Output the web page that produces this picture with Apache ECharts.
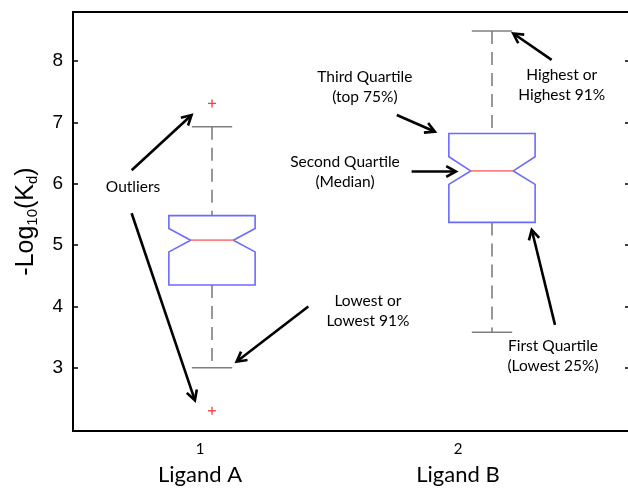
<!DOCTYPE html>
<html><head><meta charset="utf-8">
<script src="https://cdn.jsdelivr.net/npm/echarts@6/dist/echarts.min.js"></script>
<style>html,body{margin:0;padding:0;background:#fff}#c{width:628px;height:488px}</style>
</head><body><div id="c"></div>
<script>
// ---- data ----
const categories = [1, 2];
const categoryNames = ['Ligand A', 'Ligand B'];
const lowWhisker = [3.00, 3.58];
const q1 = [4.35, 5.37];
const notchLow = [4.89, 5.99];
const median = [5.08, 6.21];
const notchHigh = [5.27, 6.44];
const q3 = [5.48, 6.82];
const highWhisker = [6.93, 8.49];
const outlierX = [1, 1];
const outlierY = [7.31, 2.30];
const yTicks = [3, 4, 5, 6, 7, 8];

// annotations (data coordinates)
const annTexts = ['Outliers', 'Lowest or\nLowest 91%', 'Third Quartile\n(top 75%)', 'Second Quartile\n(Median)', 'Highest or\nHighest 91%', 'First Quartile\n(Lowest 25%)'];
const annTextX = [0.718, 1.557, 1.546, 1.475, 2.249, 2.218];
const annTextY = [5.95, 3.93, 7.58, 6.19, 7.61, 3.19];
const arrowFromX = [0.713, 0.713, 1.344, 1.660, 1.713, 2.213, 2.225];
const arrowFromY = [6.22, 5.52, 4.00, 7.12, 6.20, 8.02, 3.70];
const arrowToX = [0.927, 0.939, 1.088, 1.796, 1.871, 2.076, 2.142];
const arrowToY = [7.12, 2.47, 3.10, 6.85, 6.20, 8.45, 5.25];

const boxData = categories.map((c, i) => [c, lowWhisker[i], q1[i], notchLow[i], median[i], notchHigh[i], q3[i], highWhisker[i]]);
const outlierData = outlierX.map((x, i) => [x, outlierY[i]]);
const textData = annTexts.map((t, i) => [annTextX[i], annTextY[i], i]);
const arrowData = arrowFromX.map((x, i) => [x, arrowFromY[i], arrowToX[i], arrowToY[i]]);

const chart = echarts.init(document.getElementById('c'));

function renderBox(params, api) {
  const x = api.value(0);
  const p = k => api.coord([x, api.value(k)]);
  const unit = api.size([1, 0])[0];
  const hw = unit * 0.154, inset = unit * 0.078, cap = unit * 0.072;
  const cx = p(1)[0];
  const yLow = p(1)[1], yQ1 = p(2)[1], yNL = p(3)[1], yMed = p(4)[1], yNH = p(5)[1], yQ3 = p(6)[1], yHigh = p(7)[1];
  const L = cx - hw, R = cx + hw;
  const wStyle = { stroke: '#7f7f7f', lineWidth: 1.6, lineDash: [13, 8] };
  const cStyle = { stroke: '#7f7f7f', lineWidth: 1.6 };
  return {
    type: 'group',
    children: [
      { type: 'line', shape: { x1: cx, y1: yHigh, x2: cx, y2: yQ3 }, style: wStyle },
      { type: 'line', shape: { x1: cx, y1: yQ1, x2: cx, y2: yLow }, style: wStyle },
      { type: 'line', shape: { x1: cx - cap, y1: yHigh, x2: cx + cap, y2: yHigh }, style: cStyle },
      { type: 'line', shape: { x1: cx - cap, y1: yLow, x2: cx + cap, y2: yLow }, style: cStyle },
      { type: 'polygon', shape: { points: [[L, yQ3], [R, yQ3], [R, yNH], [R - inset, yMed], [R, yNL], [R, yQ1], [L, yQ1], [L, yNL], [L + inset, yMed], [L, yNH]] },
        style: { fill: '#fff', stroke: '#6a6aff', lineWidth: 1.6 } },
      { type: 'line', shape: { x1: L + inset, y1: yMed, x2: R - inset, y2: yMed }, style: { stroke: '#ff8080', lineWidth: 1.8 } }
    ]
  };
}

function renderOutlier(params, api) {
  const pt = api.coord([api.value(0), api.value(1)]);
  const s = 4;
  const st = { stroke: '#ff3b3b', lineWidth: 1.3 };
  return { type: 'group', children: [
    { type: 'line', shape: { x1: pt[0] - s, y1: pt[1], x2: pt[0] + s, y2: pt[1] }, style: st },
    { type: 'line', shape: { x1: pt[0], y1: pt[1] - s, x2: pt[0], y2: pt[1] + s }, style: st }
  ]};
}

function renderArrow(params, api) {
  const a = api.coord([api.value(0), api.value(1)]);
  const b = api.coord([api.value(2), api.value(3)]);
  const ang = Math.atan2(b[1] - a[1], b[0] - a[0]);
  const hl = 11, spread = 0.5;
  const h1 = [b[0] - hl * Math.cos(ang - spread), b[1] - hl * Math.sin(ang - spread)];
  const h2 = [b[0] - hl * Math.cos(ang + spread), b[1] - hl * Math.sin(ang + spread)];
  const st = { stroke: '#000', lineWidth: 2.6, fill: 'none', lineJoin: 'miter', lineCap: 'butt' };
  return { type: 'group', children: [
    { type: 'line', shape: { x1: a[0], y1: a[1], x2: b[0] - Math.cos(ang), y2: b[1] - Math.sin(ang) }, style: st },
    { type: 'polyline', shape: { points: [h1, b, h2] }, style: st }
  ]};
}

function renderText(params, api) {
  const pt = api.coord([api.value(0), api.value(1)]);
  return { type: 'text', x: pt[0], y: pt[1], style: {
    text: annTexts[api.value(2)], align: 'center', verticalAlign: 'middle',
    fontFamily: 'Lato', fontSize: 15.5, lineHeight: 20, fill: '#000'
  }};
}

chart.setOption({
  animation: false,
  backgroundColor: '#fff',
  grid: { left: 73, top: 12, right: -2, bottom: 57, show: true, borderColor: '#000', borderWidth: 2, containLabel: false, outerBoundsMode: 'none' },
  xAxis: [
    { type: 'value', min: 0.5036, max: 2.4929, axisLine: { show: false }, axisTick: { show: false }, axisLabel: { show: false }, splitLine: { show: false } },
    { type: 'value', min: 0.5078, max: 2.6667, position: 'bottom', axisLine: { show: false }, axisTick: { show: false }, splitLine: { show: false },
      axisLabel: {
        customValues: categories, margin: 7,
        formatter: v => '{n|' + v + '}\n{l|' + categoryNames[categories.indexOf(v)] + '}',
        rich: {
          n: { fontFamily: 'Lato', fontSize: 15, lineHeight: 22, color: '#000', align: 'center' },
          l: { fontFamily: 'Lato', fontSize: 22, lineHeight: 30, color: '#000', align: 'center' }
        }
      } }
  ],
  yAxis: [
    { type: 'value', min: 1.97, max: 8.8, position: 'left',
      axisLine: { show: true, lineStyle: { color: '#000', width: 2 } },
      axisTick: { show: true, inside: true, length: 5, customValues: yTicks, lineStyle: { color: '#000', width: 1.5 } },
      axisLabel: { customValues: yTicks, fontFamily: 'Liberation Sans', fontSize: 19, color: '#000', margin: 10 },
      splitLine: { show: false },
      name: '-Log{s|10}(K{s|d})', nameLocation: 'middle', nameRotate: 90, nameGap: 33,
      nameTextStyle: { fontFamily: 'Liberation Sans', fontSize: 25, color: '#000',
        rich: { s: { fontFamily: 'Liberation Sans', fontSize: 15, color: '#000', padding: [12, 0, 0, 0] } } }
    },
    { type: 'value', min: 1.97, max: 8.8, position: 'right',
      axisLine: { show: true, lineStyle: { color: '#000', width: 2 } },
      axisTick: { show: true, inside: true, length: 5, customValues: yTicks, lineStyle: { color: '#000', width: 1.5 } },
      axisLabel: { show: false }, splitLine: { show: false } }
  ],
  series: [
    { type: 'custom', xAxisIndex: 0, yAxisIndex: 0, data: boxData, renderItem: renderBox, encode: { x: 0, y: [1, 2, 3, 4, 5, 6, 7] }, silent: true },
    { type: 'custom', xAxisIndex: 0, yAxisIndex: 0, data: outlierData, renderItem: renderOutlier, encode: { x: 0, y: 1 }, silent: true },
    { type: 'custom', xAxisIndex: 0, yAxisIndex: 0, data: arrowData, renderItem: renderArrow, encode: { x: [0, 2], y: [1, 3] }, silent: true },
    { type: 'custom', xAxisIndex: 0, yAxisIndex: 0, data: textData, renderItem: renderText, encode: { x: 0, y: 1 }, silent: true }
  ]
});
</script>
</body></html>
